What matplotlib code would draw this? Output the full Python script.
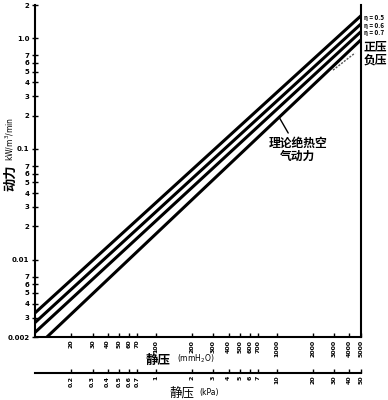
import math

import matplotlib

matplotlib.use("Agg")
import matplotlib.pyplot as plt
from matplotlib.ticker import NullLocator

plt.rcParams['font.family'] = ['Noto Sans CJK SC', 'DejaVu Sans']

# static pressure (mmH2O) at line ends, power (kW per m3/min)
pressure_mm = [10, 5000]
power_eta05 = [0.0033, 1.6]
power_eta06 = [0.0027, 1.35]
power_eta07 = [0.0022, 1.15]
power_theory = [0.00158, 0.97]
neg_pressure_mm = [2930, 4460]
power_negative = [0.516, 0.736]

series_labels = ['η = 0.5', 'η = 0.6', 'η = 0.7', '正压', '负压']

y_ticks = [0.002, 0.003, 0.004, 0.005, 0.006, 0.007, 0.01,
           0.02, 0.03, 0.04, 0.05, 0.06, 0.07, 0.1,
           0.2, 0.3, 0.4, 0.5, 0.6, 0.7, 1.0, 2]
y_tick_labels = ['0.002', '3', '4', '5', '6', '7', '0.01',
                 '2', '3', '4', '5', '6', '7', '0.1',
                 '2', '3', '4', '5', '6', '7', '1.0', '2']
x_ticks_mm = [20, 30, 40, 50, 60, 70, 100, 200, 300, 400, 500, 600, 700,
              1000, 2000, 3000, 4000, 5000]
x_ticks_kpa = [0.2, 0.3, 0.4, 0.5, 0.6, 0.7, 1, 2, 3, 4, 5, 6, 7,
               10, 20, 30, 40, 50]

MM_TO_KPA = 0.01  # scale as printed on the chart (50 kPa sits at 5000 mmH2O)

fig = plt.figure(figsize=(3.88, 4.0), dpi=100)
ax = fig.add_axes([35 / 388, 63 / 400, 326 / 388, 332 / 400])
ax.set_xscale('log')
ax.set_yscale('log')
ax.set_xlim(10, 5000)
ax.set_ylim(0.002, 2)

for vals in (power_eta05, power_eta06, power_eta07, power_theory):
    ax.plot(pressure_mm, vals, color='black', lw=2.2, solid_capstyle='butt')
ax.plot(neg_pressure_mm, power_negative, color='#555555', lw=1.0,
        linestyle=(0, (1.5, 1)))

# right-hand labels at the line ends
ends = [power_eta05[-1], power_eta06[-1], power_eta07[-1], power_theory[-1],
        power_negative[-1]]
offsets = [-1, -1, -1, -5, -5]
sizes = [4.5, 4.5, 4.5, 8.5, 8.5]
for lab, v, dy, fs in zip(series_labels, ends, offsets, sizes):
    ax.annotate(lab, xy=(1, v), xycoords=('axes fraction', 'data'),
                xytext=(2, dy), textcoords='offset points', ha='left',
                va='center', fontsize=fs, fontweight='bold',
                annotation_clip=False)

# leader to the theoretical line
lead_x = 1050
slope = (math.log(power_theory[1] / power_theory[0])
         / math.log(pressure_mm[1] / pressure_mm[0]))
lead_y = power_theory[0] * (lead_x / pressure_mm[0]) ** slope
ax.annotate('理论绝热空\n气动力', xy=(lead_x, lead_y), xycoords='data',
            xytext=(298, 250), textcoords='figure pixels', ha='center',
            va='center', fontsize=8.5, fontweight='bold', linespacing=1.0,
            arrowprops=dict(arrowstyle='-', lw=1.0, color='black',
                            shrinkA=1, shrinkB=0))

for side in ('left', 'bottom', 'right'):
    ax.spines[side].set_linewidth(1.5)
ax.spines['top'].set_visible(False)

ax.yaxis.set_minor_locator(NullLocator())
ax.xaxis.set_minor_locator(NullLocator())
ax.set_yticks(y_ticks)
ax.set_yticklabels(y_tick_labels)
ax.set_xticks(x_ticks_mm)
ax.set_xticklabels([str(t) for t in x_ticks_mm], rotation=90)
ax.tick_params(axis='y', direction='inout', length=4, width=1,
               labelsize=5, pad=2)
ax.tick_params(axis='x', direction='in', length=3, width=1,
               labelsize=4.5, pad=2)
for t in ax.get_xticklabels() + ax.get_yticklabels():
    t.set_fontweight('bold')
    t.set_family('DejaVu Sans')

sec = ax.secondary_xaxis(-0.108, functions=(lambda m: m * MM_TO_KPA,
                                            lambda k: k / MM_TO_KPA))
sec.spines['bottom'].set_linewidth(1.5)
sec.xaxis.set_minor_locator(NullLocator())
sec.set_xticks(x_ticks_kpa)
sec.set_xticklabels([f'{t:g}' for t in x_ticks_kpa], rotation=90)
sec.tick_params(axis='x', direction='in', length=3, width=1,
                labelsize=4.5, pad=2)
for t in sec.get_xticklabels():
    t.set_fontweight('bold')
    t.set_family('DejaVu Sans')

# axis titles
fig.text(158 / 388, 1 - 360 / 400, '静压', fontsize=9, fontweight='bold',
         ha='center', va='center')
fig.text(196 / 388, 1 - 359 / 400, '(mmH$_2$O)', fontsize=5.5, ha='center',
         va='center', family='DejaVu Sans')
fig.text(182 / 388, 1 - 393 / 400, '静压', fontsize=9, ha='center',
         va='center')
fig.text(209 / 388, 1 - 392 / 400, '(kPa)', fontsize=5.5, ha='center',
         va='center', family='DejaVu Sans')
fig.text(10 / 388, 1 - 178 / 400, '动力', fontsize=9.5, fontweight='bold',
         rotation=90, ha='center', va='center')
fig.text(10 / 388, 1 - 139 / 400, 'kW/m$^3$/min', fontsize=5.5,
         rotation=90, ha='center', va='center', family='DejaVu Sans')

fig.savefig('out.png', dpi=100)
